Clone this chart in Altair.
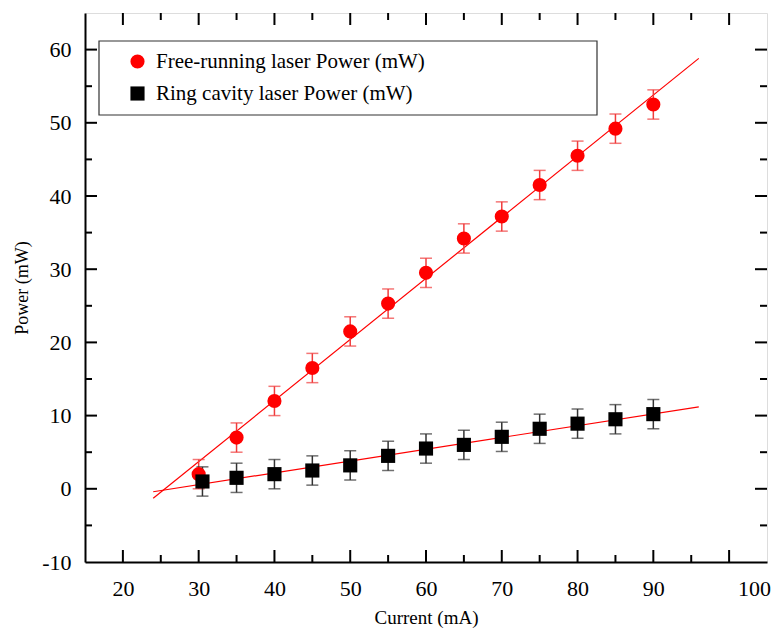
import altair as alt
import pandas as pd

# ---- data ----
current_free = [30, 35, 40, 45, 50, 55, 60, 65, 70, 75, 80, 85, 90]
power_free = [2.0, 7.0, 12.0, 16.5, 21.5, 25.3, 29.5, 34.2, 37.2, 41.5, 45.5, 49.2, 52.5]
err_free = [2.0] * 13

current_ring = [30.5, 35, 40, 45, 50, 55, 60, 65, 70, 75, 80, 85, 90]
power_ring = [1.0, 1.5, 2.0, 2.5, 3.2, 4.5, 5.5, 6.0, 7.1, 8.2, 8.9, 9.5, 10.2]
err_ring = [2.0] * 13

fit_x = [24.0, 96.0]
fit_free_y = [-1.3, 58.8]
fit_ring_y = [-0.4, 11.2]

series_names = ["Free-running laser Power (mW)", "Ring cavity laser Power (mW)"]
series_colors = ["#ff0000", "#000000"]
err_colors = ["#f03c3c", "#333333"]
series_shapes = ["circle", "square"]

x_major = [20, 30, 40, 50, 60, 70, 80, 90, 100]
x_minor = [25, 35, 45, 55, 65, 75, 85, 95]
y_major = [0, 10, 20, 30, 40, 50, 60]
y_minor = [-5, 5, 15, 25, 35, 45, 55]
x_label_values = [20, 30, 40, 50, 60, 70, 80, 90, 103.3]
y_label_values = [-10, 0, 10, 20, 30, 40, 50, 60]

W, H = 682, 549
FONT = "Liberation Serif"

# ---- tables ----
pts = pd.DataFrame({
    "current": current_free + current_ring,
    "power": power_free + power_ring,
    "lo": [p - e for p, e in zip(power_free, err_free)] + [p - e for p, e in zip(power_ring, err_ring)],
    "hi": [p + e for p, e in zip(power_free, err_free)] + [p + e for p, e in zip(power_ring, err_ring)],
    "series": [series_names[0]] * len(current_free) + [series_names[1]] * len(current_ring),
})
fits = pd.DataFrame({
    "current": fit_x + fit_x,
    "power": fit_free_y + fit_ring_y,
    "series": [series_names[0]] * 2 + [series_names[1]] * 2,
})

xs = alt.Scale(domain=[15, 105], nice=False, zero=False)
ys = alt.Scale(domain=[-10, 65], nice=False, zero=False)

x_axis = alt.Axis(
    values=x_label_values, labelExpr="datum.value > 100 ? '100' : '' + datum.value",
    ticks=False, grid=False, domainColor="black", domainWidth=2,
    labelFont=FONT, labelFontSize=22, labelColor="black", labelPadding=16,
    title="Current (mA)", titleFont=FONT, titleFontSize=19, titleFontWeight="normal",
    titleColor="black", titlePadding=9,
)
y_axis = alt.Axis(
    values=y_label_values, labelExpr="'' + datum.value",
    ticks=False, grid=False, domainColor="black", domainWidth=2,
    labelFont=FONT, labelFontSize=22, labelColor="black", labelPadding=14,
    title="Power (mW)", titleFont=FONT, titleFontSize=18, titleFontWeight="normal",
    titleColor="black", titlePadding=10,
)

X = alt.X("current:Q", scale=xs, axis=x_axis)
Y = alt.Y("power:Q", scale=ys, axis=y_axis)

layers = []
for i, name in enumerate(series_names):
    layers.append(alt.Chart(fits).transform_filter(alt.datum.series == name).mark_line(
        color="#ff0000", strokeWidth=1.2).encode(x=X, y=Y))

for i, name in enumerate(series_names):
    b = alt.Chart(pts).transform_filter(alt.datum.series == name)
    layers.append(b.mark_rule(strokeWidth=1.5, color=err_colors[i]).encode(
        x="current:Q", y="lo:Q", y2="hi:Q"))
    layers.append(b.mark_tick(orient="horizontal", size=12, thickness=1.5, color=err_colors[i]).encode(
        x="current:Q", y="lo:Q"))
    layers.append(b.mark_tick(orient="horizontal", size=12, thickness=1.5, color=err_colors[i]).encode(
        x="current:Q", y="hi:Q"))

points = alt.Chart(pts).mark_point(filled=True, opacity=1, size=200).encode(
    x="current:Q", y="power:Q",
    color=alt.Color("series:N", scale=alt.Scale(domain=series_names, range=series_colors),
                    legend=alt.Legend(title=None, orient="none", legendX=42, legendY=38,
                                      labelFont=FONT, labelFontSize=21, labelColor="black",
                                      labelLimit=0, symbolSize=200, rowPadding=10,
                                      labelOffset=8, symbolStrokeWidth=0)),
    shape=alt.Shape("series:N", scale=alt.Scale(domain=series_names, range=series_shapes)),
)
layers.append(points)

# legend frame
layers.append(alt.Chart(pd.DataFrame({"k": [0]})).mark_rect(
    fill=None, stroke="#333333", strokeWidth=1.2).encode(
    x=alt.value(14), x2=alt.value(512), y=alt.value(28), y2=alt.value(102)))

# inward ticks
def tick_layer(vals, orient, length):
    d = alt.Chart(pd.DataFrame({"v": vals}))
    m = d.mark_rule(color="black", strokeWidth=2)
    if orient == "bottom":
        return m.encode(x=alt.X("v:Q"), y=alt.value(H), y2=alt.value(H - length))
    if orient == "top":
        return m.encode(x=alt.X("v:Q"), y=alt.value(0), y2=alt.value(length))
    if orient == "left":
        return m.encode(y=alt.Y("v:Q"), x=alt.value(0), x2=alt.value(length))
    return m.encode(y=alt.Y("v:Q"), x=alt.value(W), x2=alt.value(W - length))

for o in ["bottom", "top"]:
    layers.append(tick_layer(x_major, o, 12))
    layers.append(tick_layer(x_minor, o, 7))
for o in ["left", "right"]:
    layers.append(tick_layer(y_major, o, 12))
    layers.append(tick_layer(y_minor, o, 7))

chart = alt.layer(*layers).properties(
    width=W, height=H,
    autosize=alt.AutoSizeParams(type="none"),
    padding={"left": 77, "top": 5, "right": 6, "bottom": 70},
).configure_view(
    stroke="black", strokeWidth=2
).configure(background="white")

chart.save("out.html", embed_options={"renderer": "svg", "actions": False})
